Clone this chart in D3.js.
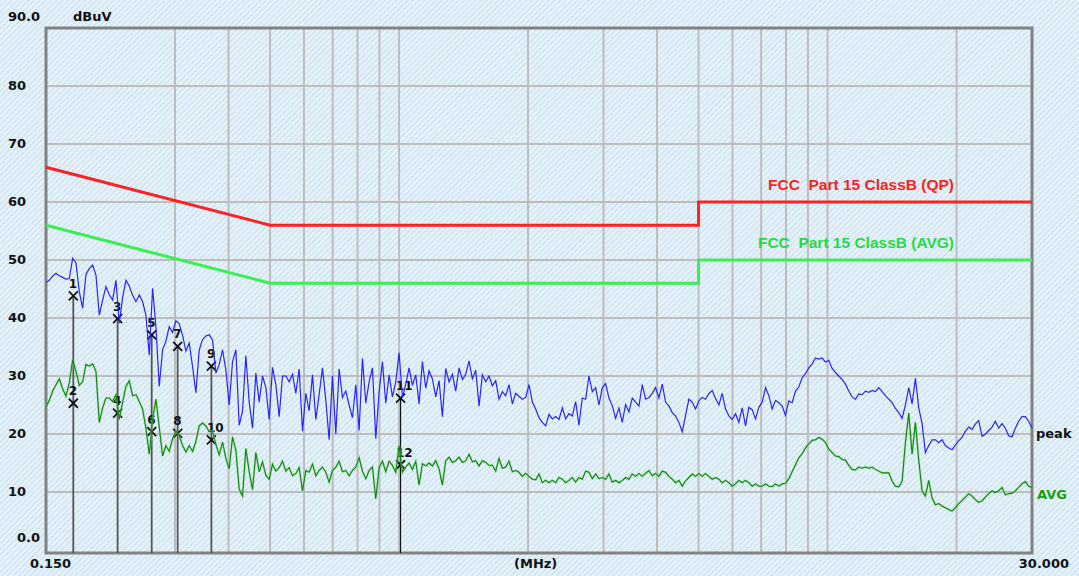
<!DOCTYPE html>
<html>
<head>
<meta charset="utf-8">
<script src="https://cdn.jsdelivr.net/npm/d3@7/dist/d3.min.js"></script>
<style>
  body { margin: 0; background: #e4f2fa; }
  svg { display: block; }
</style>
</head>
<body>
<svg id="chart"></svg>
<script>
// y axis ticks (dBuV) and their printed labels
var yTicks = [0, 10, 20, 30, 40, 50, 60, 70, 80, 90];
var yLabels = ["0.0", "10", "20", "30", "40", "50", "60", "70", "80", "90.0"];
// vertical grid lines (MHz)
var xGrid = [0.3, 0.4, 0.5, 0.6, 0.7, 0.8, 0.9, 1, 2, 3, 4, 5, 6, 7, 8, 9, 10, 20];

// limit lines
var limitFreq = [0.15, 0.5, 5, 5, 30];
var qpLimit = [66, 56, 56, 60, 60];
var avgLimit = [56, 46, 46, 50, 50];

// markers
var markerNo = [1, 2, 3, 4, 5, 6, 7, 8, 9, 10, 11, 12];
var markerFreq = [0.1737, 0.1737, 0.2204, 0.2204, 0.2647, 0.2647, 0.3043, 0.3043, 0.3648, 0.3648, 1.008, 1.008];
var markerLevel = [43.8, 25.3, 39.9, 23.6, 37.1, 20.4, 35.1, 20.1, 31.7, 19.0, 26.2, 14.7];

// sweep (log spaced points from sweepStart to sweepStop)
var sweepStart = 0.15, sweepStop = 30;
var peak = [
  46.1, 46.5, 47.2, 47.7, 47.3, 47.0, 46.7, 46.8, 50.3, 49.5,
  44.5, 41.7, 47.5, 48.5, 49.1, 47.4, 40.5, 43.1, 45.4, 44.0,
  43.1, 46.5, 39.1, 43.5, 46.5, 45.5, 43.9, 42.8, 44.0, 42.8,
  40.5, 33.6, 45.1, 38.5, 28.2, 34.5, 36.0, 38.5, 37.5, 39.5,
  39.0, 37.0, 34.3, 35.7, 31.6, 27.1, 34.5, 36.3, 36.9, 37.1,
  36.2, 30.5, 32.0, 34.5, 31.0, 25.0, 32.5, 34.5, 21.5, 24.0,
  33.5, 25.5, 21.0, 30.5, 25.5, 30.0, 28.0, 22.5, 31.5, 28.5,
  23.0, 30.0, 30.0, 29.0, 30.3, 27.0, 31.2, 20.5, 27.0, 24.0,
  30.2, 22.5, 26.8, 31.4, 25.8, 19.0, 30.0, 20.0, 31.2, 26.3,
  27.4, 25.0, 22.8, 28.5, 20.6, 33.0, 25.3, 29.0, 31.4, 19.2,
  27.2, 32.5, 25.3, 30.2, 26.4, 29.0, 34.0, 26.3, 28.6, 31.4,
  28.4, 30.2, 25.2, 32.5, 27.9, 30.9, 29.5, 26.4, 29.2, 23.0,
  31.3, 29.0, 30.3, 27.4, 31.4, 29.4, 30.3, 32.6, 29.5, 31.0,
  24.8, 30.2, 29.0, 30.0, 28.3, 29.2, 26.0, 27.3, 26.6, 28.5,
  25.2, 27.0, 26.5, 26.0, 26.3, 28.5, 25.5, 24.3, 22.8, 22.0,
  21.4, 23.4, 22.6, 23.0, 22.5, 24.5, 22.6, 23.5, 23.1, 25.6,
  21.5, 26.2, 26.0, 30.0, 27.3, 28.0, 25.0, 28.0, 28.7, 26.2,
  24.9, 22.7, 24.5, 22.0, 25.1, 23.8, 26.2, 25.5, 24.8, 28.5,
  26.0, 26.3, 27.0, 28.0, 26.2, 28.6, 25.5, 24.8, 23.7, 23.1,
  22.0, 20.4, 23.2, 26.0, 25.5, 24.3, 25.7, 26.3, 26.0, 27.0,
  27.5, 26.1, 25.0, 27.0, 24.3, 23.1, 22.5, 23.5, 22.0, 24.5,
  21.4, 24.6, 24.2, 22.6, 24.6, 25.5, 28.0, 26.6, 24.3, 25.8,
  25.4, 24.8, 23.2, 25.7, 25.4, 27.4, 28.1, 29.7, 30.4, 31.4,
  32.1, 33.1, 32.9, 33.1, 32.4, 32.7, 31.3, 30.6, 30.0, 29.4,
  28.6, 27.4, 26.4, 26.0, 26.9, 26.8, 27.4, 27.2, 27.5, 27.3,
  28.0, 27.3, 26.6, 26.0, 25.4, 24.4, 23.7, 22.7, 25.0, 28.0,
  25.2, 29.6, 24.5, 21.8, 16.8, 18.0, 19.0, 19.0, 18.5, 19.0,
  18.0, 17.6, 17.3, 18.1, 18.8, 19.4, 20.5, 21.2, 20.8, 21.7,
  22.3, 19.6, 20.0, 20.6, 21.2, 22.2, 21.0, 21.8, 21.0, 19.7,
  19.5, 21.0, 22.2, 23.0, 23.0, 22.2, 21.0
];
var avg = [
  24.7, 25.8, 27.4, 28.5, 29.5, 27.8, 26.5, 28.8, 32.8, 30.8,
  28.4, 29.0, 32.0, 31.7, 32.1, 30.8, 22.0, 24.5, 26.2, 26.2,
  25.6, 26.8, 22.5, 25.5, 28.2, 29.2, 26.6, 26.8, 25.6, 24.3,
  21.0, 16.5, 22.5, 26.0, 21.2, 16.2, 18.0, 17.0, 19.2, 20.5,
  19.7, 18.0, 16.9, 18.0, 17.0, 18.7, 21.4, 21.9, 21.4, 20.4,
  20.5, 18.2, 16.4, 18.6, 15.8, 14.0, 19.5, 17.2, 10.5, 9.3,
  17.5, 13.5, 10.4, 16.8, 13.5, 15.2, 12.9, 12.2, 14.8, 13.6,
  14.2, 15.3, 13.6, 14.2, 12.8, 13.2, 14.2, 10.2, 13.7, 13.4,
  14.8, 12.8, 13.7, 14.3, 13.4, 11.7, 13.7, 14.3, 15.3, 13.5,
  13.7, 12.8, 13.7, 14.3, 15.9, 13.6, 12.3, 13.7, 14.3, 8.8,
  14.2, 15.3, 13.5, 15.3, 14.6, 13.4, 18.0, 13.4, 14.3, 15.0,
  13.9, 15.3, 11.2, 14.9, 14.5, 15.0, 14.5, 15.4, 14.0, 11.2,
  15.4, 16.0, 15.1, 15.4, 16.0, 15.1, 15.4, 16.5, 15.2, 15.4,
  14.5, 15.4, 15.1, 14.6, 14.6, 13.6, 15.8, 14.1, 14.3, 15.3,
  13.5, 13.7, 13.4, 12.7, 13.2, 12.7, 12.2, 12.1, 13.1, 11.6,
  12.0, 11.6, 12.0, 11.6, 12.5, 12.2, 11.6, 12.0, 12.5, 11.7,
  12.5, 12.2, 13.6, 13.4, 12.3, 13.1, 12.3, 12.5, 12.2, 13.1,
  11.7, 12.0, 11.6, 12.0, 12.5, 12.2, 13.1, 12.7, 13.2, 12.7,
  13.2, 13.7, 12.8, 13.2, 12.7, 13.6, 13.4, 12.7, 12.2, 11.6,
  12.0, 11.0, 11.9, 12.5, 13.1, 12.7, 13.2, 12.7, 13.2, 12.7,
  12.2, 12.5, 12.2, 11.6, 12.0, 11.6, 11.0, 11.4, 12.0, 11.6,
  12.0, 11.6, 11.0, 11.4, 11.0, 11.0, 11.4, 11.0, 10.9, 11.4,
  11.0, 11.4, 11.5, 12.3, 13.5, 14.7, 15.9, 16.6, 17.6, 18.3,
  18.9, 19.0, 19.4, 19.1, 18.5, 17.4, 16.8, 16.2, 16.1, 15.6,
  15.5, 14.6, 13.9, 13.8, 14.3, 14.1, 14.3, 14.1, 14.3, 13.9,
  13.6, 13.3, 13.3, 13.3, 11.9, 11.0, 10.9, 11.8, 18.5, 23.6,
  16.5, 22.0, 15.5, 10.2, 9.3, 12.0, 9.0, 7.8, 8.0, 7.6,
  7.3, 7.0, 6.7, 7.3, 8.0, 8.5, 9.1, 9.7, 9.3, 8.7,
  8.2, 8.5, 9.1, 9.7, 10.2, 9.9, 10.2, 10.8, 9.5, 9.7,
  9.8, 10.2, 10.8, 11.4, 11.8, 11.0, 10.8
];

var screen = { width: 1079, height: 576 };
var plot = { left: 46, right: 1032, top: 28, bottom: 553 };
var font = "'DejaVu Sans', sans-serif";

var svg = d3.select("#chart")
  .attr("width", screen.width)
  .attr("height", screen.height);

// hatched light blue background
var defs = svg.append("defs");
var hatch = defs.append("pattern")
  .attr("id", "hatch")
  .attr("width", 4)
  .attr("height", 4)
  .attr("patternUnits", "userSpaceOnUse")
  .attr("patternTransform", "rotate(45)");
hatch.append("rect").attr("width", 4).attr("height", 4).attr("fill", "#e5f2fa");
hatch.append("line")
  .attr("x1", 0.5).attr("y1", 0).attr("x2", 0.5).attr("y2", 4)
  .attr("stroke", "#c6deec").attr("stroke-width", 1);

svg.append("rect")
  .attr("width", screen.width)
  .attr("height", screen.height)
  .attr("fill", "url(#hatch)");

var xScale = d3.scaleLog()
  .domain([sweepStart, sweepStop])
  .range([plot.left, plot.right]);

var yScale = d3.scaleLinear()
  .domain([0, 90])
  .range([550, plot.top]);

// grid
var grid = svg.append("g").attr("stroke", "#bdbdbd").attr("stroke-width", 2);
grid.selectAll(".hgrid")
  .data(yTicks.filter(function(d) { return d > 0 && d < 90; }))
  .enter()
  .append("line")
  .attr("x1", plot.left).attr("x2", plot.right)
  .attr("y1", function(d) { return yScale(d); })
  .attr("y2", function(d) { return yScale(d); });
grid.selectAll(".vgrid")
  .data(xGrid)
  .enter()
  .append("line")
  .attr("y1", plot.top).attr("y2", plot.bottom)
  .attr("x1", function(d) { return xScale(d); })
  .attr("x2", function(d) { return xScale(d); });

// frame
svg.append("rect")
  .attr("x", plot.left).attr("y", plot.top)
  .attr("width", plot.right - plot.left)
  .attr("height", plot.bottom - plot.top)
  .attr("fill", "none")
  .attr("stroke", "#828282")
  .attr("stroke-width", 3);

// y labels
svg.selectAll(".ylab")
  .data(yTicks)
  .enter()
  .append("text")
  .attr("x", function(d) { return d === 0 ? 17 : 8; })
  .attr("y", function(d) {
    if (d === 90) return 21;
    if (d === 0) return 542;
    return yScale(d) + 3.5;
  })
  .attr("font-family", font)
  .attr("font-weight", "bold")
  .attr("font-size", 13)
  .attr("fill", "#111")
  .text(function(d, i) { return yLabels[i]; });

var axisText = function(x, y, txt, anchor) {
  svg.append("text")
    .attr("x", x).attr("y", y)
    .attr("text-anchor", anchor || "start")
    .attr("font-family", font)
    .attr("font-weight", "bold")
    .attr("font-size", 13)
    .attr("fill", "#111")
    .text(txt);
};
axisText(73, 21, "dBuV");
axisText(30, 568, "0.150");
axisText(514, 568, "(MHz)");
axisText(1069, 568, "30.000", "end");

// limit lines
var limLine = d3.line()
  .x(function(d) { return xScale(d[0]); })
  .y(function(d) { return yScale(d[1]); });

svg.append("path")
  .datum(limitFreq.map(function(f, i) { return [f, qpLimit[i]]; }))
  .attr("d", limLine)
  .attr("fill", "none")
  .attr("stroke", "#ff2222")
  .attr("stroke-width", 3);

svg.append("path")
  .datum(limitFreq.map(function(f, i) { return [f, avgLimit[i]]; }))
  .attr("d", limLine)
  .attr("fill", "none")
  .attr("stroke", "#3bee52")
  .attr("stroke-width", 3);

var limText = function(y, txt, color) {
  svg.append("text")
    .attr("x", xScale(20) - 2.5)
    .attr("y", y)
    .attr("text-anchor", "end")
    .attr("font-family", "'Liberation Sans', Arial, sans-serif")
    .attr("font-weight", "bold")
    .attr("font-size", 15.5)
    .attr("fill", color)
    .attr("xml:space", "preserve")
    .style("white-space", "pre")
    .text(txt);
};
limText(yScale(60) - 12, "FCC  Part 15 ClassB (QP)", "#ff1f1f");
limText(yScale(50) - 12, "FCC  Part 15 ClassB (AVG)", "#22dd44");

// markers (drawn below the traces)
var mk = svg.append("g");
mk.selectAll(".mline")
  .data(markerNo.filter(function(d) { return d % 2 === 1; }))
  .enter()
  .append("line")
  .attr("x1", function(d) { return xScale(markerFreq[d - 1]); })
  .attr("x2", function(d) { return xScale(markerFreq[d - 1]); })
  .attr("y1", function(d) { return yScale(markerLevel[d - 1]); })
  .attr("y2", plot.bottom)
  .attr("stroke", function(d) { return d === 11 ? "#111" : "#555"; })
  .attr("stroke-width", function(d) { return d === 11 ? 1.2 : 1.8; });

mk.selectAll(".mx")
  .data(markerNo)
  .enter()
  .append("path")
  .attr("d", function(d) {
    var x = xScale(markerFreq[d - 1]), y = yScale(markerLevel[d - 1]), s = 4.5;
    return "M" + (x - s) + "," + (y - s) + "L" + (x + s) + "," + (y + s) +
           "M" + (x + s) + "," + (y - s) + "L" + (x - s) + "," + (y + s);
  })
  .attr("stroke", "#111")
  .attr("stroke-width", 1.8)
  .attr("fill", "none");

mk.selectAll(".mnum")
  .data(markerNo)
  .enter()
  .append("text")
  .attr("x", function(d) { return xScale(markerFreq[d - 1]) - 4.5; })
  .attr("y", function(d) { return yScale(markerLevel[d - 1]) - 8; })
  .attr("font-family", font)
  .attr("font-weight", "bold")
  .attr("font-size", 12)
  .attr("fill", "#111")
  .text(function(d) { return d; });

// traces
var sweepFreq = function(i, n) {
  return sweepStart * Math.pow(sweepStop / sweepStart, i / (n - 1));
};
var trace = d3.line()
  .x(function(d, i, arr) { return xScale(sweepFreq(i, arr.length)); })
  .y(function(d) { return yScale(d); });

svg.append("path")
  .datum(avg)
  .attr("d", trace)
  .attr("fill", "none")
  .attr("stroke", "#8fd48f")
  .attr("stroke-width", 2.2)
  .attr("stroke-opacity", 0.6);
svg.append("path")
  .datum(avg)
  .attr("d", trace)
  .attr("fill", "none")
  .attr("stroke", "#0d860d")
  .attr("stroke-width", 1.1);

svg.append("path")
  .datum(peak)
  .attr("d", trace)
  .attr("fill", "none")
  .attr("stroke", "#2626ff")
  .attr("stroke-width", 1.2);

// trace names
svg.append("text")
  .attr("x", 1036).attr("y", 438)
  .attr("font-family", font).attr("font-weight", "bold").attr("font-size", 13)
  .attr("fill", "#111")
  .text("peak");
svg.append("text")
  .attr("x", 1037).attr("y", 499)
  .attr("font-family", font).attr("font-weight", "bold").attr("font-size", 13)
  .attr("fill", "#17a017")
  .text("AVG");
</script>
</body>
</html>
